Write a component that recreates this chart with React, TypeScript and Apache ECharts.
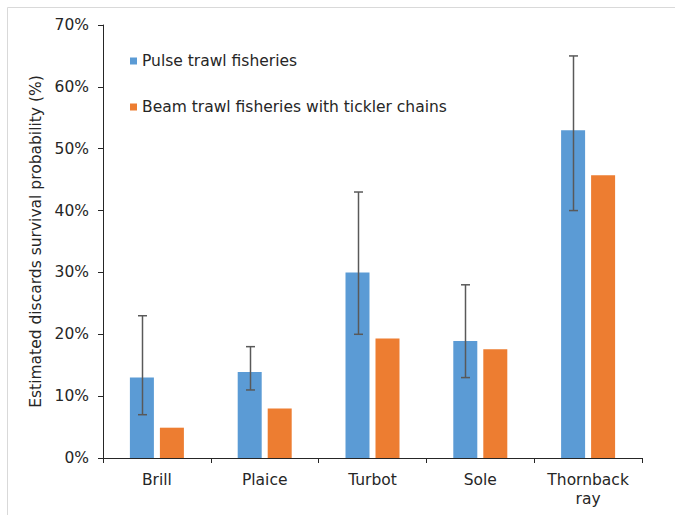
import React, { useEffect, useRef } from "react";
import * as echarts from "echarts";

const categories = ["Brill", "Plaice", "Turbot", "Sole", "Thornback\nray"];
const pulseValues = [13, 13.9, 30, 18.9, 53];
const beamValues = [4.9, 8.0, 19.3, 17.6, 45.7];
const pulseLow = [7, 11, 20, 13, 40];
const pulseHigh = [23, 18, 43, 28, 65];
const yTicks = [0, 10, 20, 30, 40, 50, 60, 70];
const seriesNames = ["Pulse trawl fisheries", "Beam trawl fisheries with tickler chains"];

const FONT = "DejaVu Sans, Verdana, sans-serif";
const FS = 15.5;
const BAR_W = 24;
const BAR_GAP = 6;

export default function App() {
  const ref = useRef<HTMLDivElement>(null);
  useEffect(() => {
    if (!ref.current) return;
    const chart = echarts.init(ref.current, undefined, { renderer: "svg" });
    const errData = categories.map((_, i) => [i, pulseLow[i], pulseHigh[i]]);
    chart.setOption({
      animation: false,
      textStyle: { fontFamily: FONT },
      grid: { left: 103, right: 33, top: 25, bottom: 57 },
      legend: {
        left: 125,
        top: 48,
        orient: "vertical",
        itemWidth: 7,
        itemHeight: 7,
        itemGap: 30,
        icon: "rect",
        textStyle: { fontFamily: FONT, fontSize: FS, color: "#262626", padding: [0, 0, 0, 0] },
        data: seriesNames,
      },
      graphic: [
        {
          type: "rect",
          shape: { x: 7.5, y: 7.5, width: 720, height: 560 },
          style: { fill: "none", stroke: "#d9d9d9", lineWidth: 1 },
          silent: true,
        },
      ],
      xAxis: {
        type: "category",
        data: categories,
        axisLine: { lineStyle: { color: "#262626", width: 1 } },
        axisTick: { show: true, length: 5, lineStyle: { color: "#262626" } },
        axisLabel: { fontFamily: FONT, fontSize: FS, color: "#262626", margin: 12, lineHeight: 19 },
      },
      yAxis: {
        type: "value",
        min: 0,
        max: 70,
        interval: 10,
        name: "Estimated discards survival probability (%)",
        nameLocation: "middle",
        nameGap: 54,
        nameTextStyle: { fontFamily: FONT, fontSize: FS, color: "#262626" },
        axisLine: { show: true, lineStyle: { color: "#262626", width: 1 } },
        axisTick: { show: true, length: 5, lineStyle: { color: "#262626" } },
        splitLine: { show: false },
        axisLabel: {
          fontFamily: FONT,
          fontSize: FS,
          color: "#262626",
          margin: 14,
          formatter: (v: number) => (yTicks.includes(v) ? v + "%" : ""),
        },
      },
      series: [
        {
          name: seriesNames[0],
          type: "bar",
          data: pulseValues,
          barWidth: BAR_W,
          barGap: (BAR_GAP / BAR_W) * 100 + "%",
          itemStyle: { color: "#5B9BD5" },
        },
        {
          name: seriesNames[1],
          type: "bar",
          data: beamValues,
          barWidth: BAR_W,
          itemStyle: { color: "#ED7D31" },
        },
        {
          type: "custom",
          data: errData,
          z: 10,
          encode: { x: 0, y: [1, 2] },
          renderItem: (params: any, api: any) => {
            const idx = api.value(0);
            const lo = api.coord([idx, api.value(1)]);
            const hi = api.coord([idx, api.value(2)]);
            const off = -(BAR_W + BAR_GAP) / 2;
            const x = Math.round(lo[0] + off) + 0.5;
            const cap = 4.5;
            const style = { stroke: "#595959", lineWidth: 1.5, fill: "none" };
            return {
              type: "group",
              children: [
                { type: "line", shape: { x1: x, y1: lo[1], x2: x, y2: hi[1] }, style },
                { type: "line", shape: { x1: x - cap, y1: lo[1], x2: x + cap, y2: lo[1] }, style },
                { type: "line", shape: { x1: x - cap, y1: hi[1], x2: x + cap, y2: hi[1] }, style },
              ],
            };
          },
        },
      ],
    });
    return () => chart.dispose();
  }, []);
  return (
    <div
      ref={ref}
      style={{ position: "fixed", left: 0, top: 0, width: 675, height: 515, background: "#fff" }}
    />
  );
}
